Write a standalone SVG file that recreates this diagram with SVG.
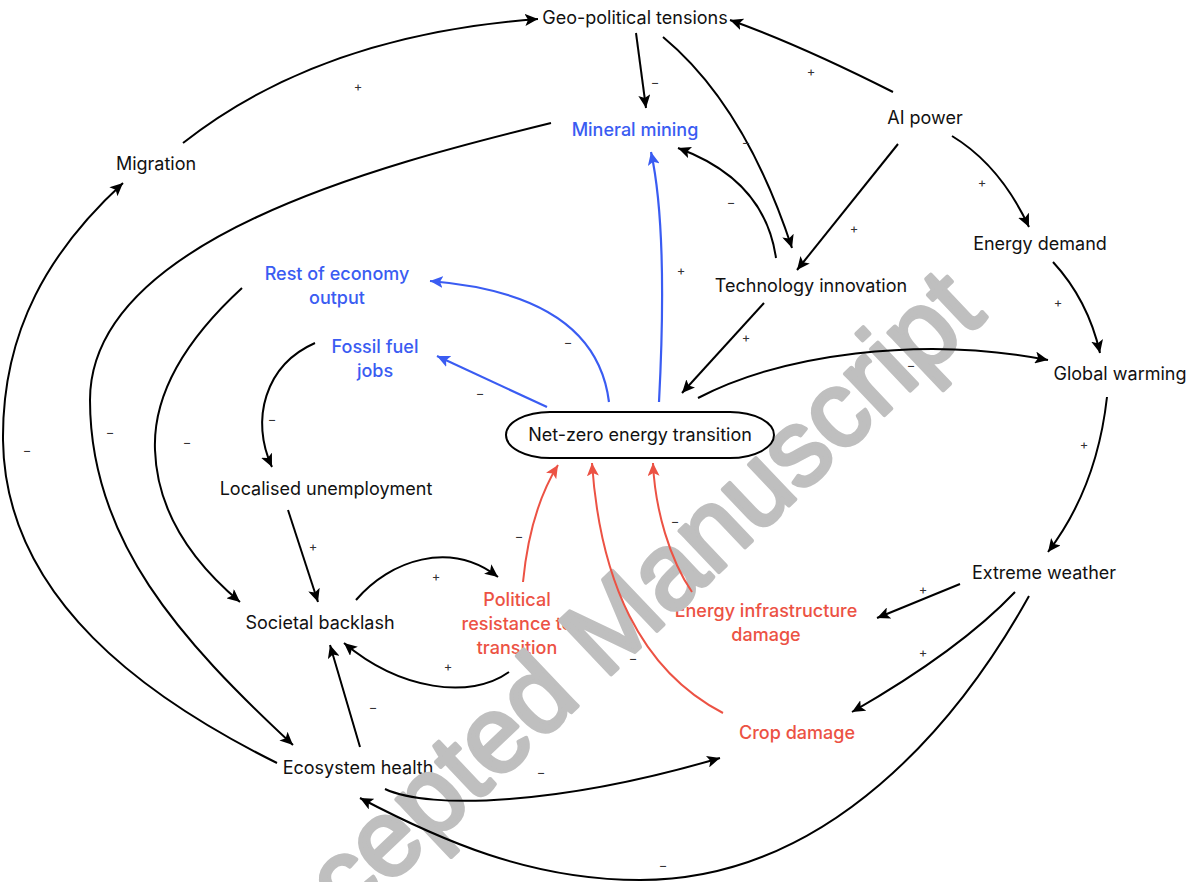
<svg xmlns="http://www.w3.org/2000/svg" width="1186" height="882" viewBox="0 0 1186 882">
<defs>
<marker id="ab" markerUnits="userSpaceOnUse" markerWidth="14" markerHeight="12" refX="13" refY="6" orient="auto"><path d="M0,0 L13,6 L0,12 L3,6 Z" fill="#000"/></marker>
<marker id="abl" markerUnits="userSpaceOnUse" markerWidth="14" markerHeight="12" refX="13" refY="6" orient="auto"><path d="M0,0 L13,6 L0,12 L3,6 Z" fill="#3a5cf2"/></marker>
<marker id="ar" markerUnits="userSpaceOnUse" markerWidth="14" markerHeight="12" refX="13" refY="6" orient="auto"><path d="M0,0 L13,6 L0,12 L3,6 Z" fill="#ec5244"/></marker>
</defs>
<style>
text{font-family:Inter,"Liberation Sans",sans-serif;}
.n{font-size:18px;fill:#111;text-anchor:middle;}
.b{font-size:18px;fill:#3a5cf2;text-anchor:middle;font-weight:500;}
.r{font-size:18px;fill:#ec5244;text-anchor:middle;font-weight:500;}
.s{font-size:13px;fill:#333;text-anchor:middle;}
.k{fill:none;stroke:#000;stroke-width:2;marker-end:url(#ab);}
.bl{fill:none;stroke:#3a5cf2;stroke-width:2.2;marker-end:url(#abl);}
.rd{fill:none;stroke:#ec5244;stroke-width:2;marker-end:url(#ar);}
.wm{font-family:"Liberation Sans",Arial,sans-serif;font-size:108px;fill:#bfbfbf;stroke:#bfbfbf;stroke-width:4;stroke-linejoin:round;}
</style>
<rect width="1186" height="882" fill="#fff"/>
<g id="geo"><text class="n" x="635" y="24">Geo-political tensions</text></g>
<g id="mineral"><text class="b" x="635" y="136">Mineral mining</text></g>
<g id="ai"><text class="n" x="925" y="124">AI power</text></g>
<g id="migration"><text class="n" x="156" y="170">Migration</text></g>
<g id="energydemand"><text class="n" x="1040" y="250">Energy demand</text></g>
<g id="rest"><text class="b" x="337" y="280">Rest of economy</text><text class="b" x="337" y="304">output</text></g>
<g id="tech"><text class="n" x="811" y="292">Technology innovation</text></g>
<g id="fossil"><text class="b" x="375" y="353">Fossil fuel</text><text class="b" x="375" y="377">jobs</text></g>
<g id="warming"><text class="n" x="1120" y="380">Global warming</text></g>
<g id="unemployment"><text class="n" x="326" y="495">Localised unemployment</text></g>
<g id="extreme"><text class="n" x="1044" y="579">Extreme weather</text></g>
<g id="backlash"><text class="n" x="320" y="629">Societal backlash</text></g>
<g id="political"><text class="r" x="517" y="606">Political</text><text class="r" x="517" y="630">resistance to</text><text class="r" x="517" y="654">transition</text></g>
<g id="infra"><text class="r" x="766" y="617">Energy infrastructure</text><text class="r" x="766" y="641">damage</text></g>
<g id="crop"><text class="r" x="797" y="739">Crop damage</text></g>
<g id="ecosystem"><text class="n" x="358" y="774">Ecosystem health</text></g>
<text class="wm" x="622" y="664" text-anchor="middle" transform="rotate(-43.5 622 664)">Accepted Manuscript</text>
<g id="connectors">
<path class="k" d="M183,143 Q320,35 538,19"/>
<path class="k" d="M893,92 Q800,45 730,20"/>
<path class="k" d="M636,33 L646,108"/>
<path class="k" d="M663,37 Q745,105 792,248"/>
<path class="k" d="M776,258 Q765,180 678,148"/>
<path class="k" d="M898,144 L797,270"/>
<path class="k" d="M952,136 Q1000,165 1029,227"/>
<path class="k" d="M551,123 C380,165 90,240 90,400 C90,540 180,640 293,745"/>
<path class="k" d="M277,763 C150,700 5,600 3,440 C2,330 50,250 123,183"/>
<path class="k" d="M242,288 C180,345 153,400 155,450 C157,510 190,560 240,602"/>
<path class="bl" d="M609,402 C600,330 540,290 430,281"/>
<path class="bl" d="M547,407 L437,356"/>
<path class="k" d="M315,343 C265,365 250,420 272,467"/>
<path class="bl" d="M659,402 Q668,230 651,152"/>
<path class="k" d="M764,303 L682,393"/>
<path class="k" d="M698,398 C780,355 920,335 1048,360"/>
<path class="k" d="M1053,262 Q1088,300 1100,353"/>
<path class="k" d="M1107,397 C1100,460 1080,510 1048,552"/>
<path class="k" d="M960,584 L877,618"/>
<path class="k" d="M1015,592 Q960,650 852,712"/>
<path class="k" d="M1029,596 C960,720 830,880 640,880 C530,880 440,840 360,798"/>
<path class="k" d="M385,789 C430,810 560,805 720,758"/>
<path class="k" d="M360,747 L330,645"/>
<path class="k" d="M288,510 L318,602"/>
<path class="k" d="M356,600 C390,560 450,540 498,577"/>
<path class="k" d="M509,672 C470,700 400,690 344,643"/>
<path class="rd" d="M523,582 Q530,510 558,465"/>
<path class="rd" d="M723,713 C640,670 600,580 592,463"/>
<path class="rd" d="M692,592 C670,560 655,510 653,463"/>
</g>
<g id="signs">
<text class="s" x="358" y="91">+</text>
<text class="s" x="811" y="76">+</text>
<text class="s" x="655" y="87">−</text>
<text class="s" x="746" y="147">−</text>
<text class="s" x="731" y="207">−</text>
<text class="s" x="854" y="233">+</text>
<text class="s" x="982" y="187">+</text>
<text class="s" x="110" y="437">−</text>
<text class="s" x="27" y="455">−</text>
<text class="s" x="187" y="447">−</text>
<text class="s" x="568" y="347">−</text>
<text class="s" x="480" y="398">−</text>
<text class="s" x="272" y="424">−</text>
<text class="s" x="681" y="275">+</text>
<text class="s" x="746" y="342">+</text>
<text class="s" x="911" y="370">−</text>
<text class="s" x="1058" y="307">+</text>
<text class="s" x="1084" y="449">+</text>
<text class="s" x="923" y="594">+</text>
<text class="s" x="923" y="657">+</text>
<text class="s" x="663" y="870">−</text>
<text class="s" x="541" y="777">−</text>
<text class="s" x="373" y="712">−</text>
<text class="s" x="313" y="551">+</text>
<text class="s" x="436" y="581">+</text>
<text class="s" x="448" y="671">+</text>
<text class="s" x="519" y="541">−</text>
<text class="s" x="633" y="663">−</text>
<text class="s" x="675" y="526">−</text>
</g>
<g id="netzero"><rect x="506" y="412" width="268" height="46" rx="44" ry="23" fill="none" stroke="#000" stroke-width="2"/><text class="n" x="640" y="441">Net-zero energy transition</text></g>
</svg>
